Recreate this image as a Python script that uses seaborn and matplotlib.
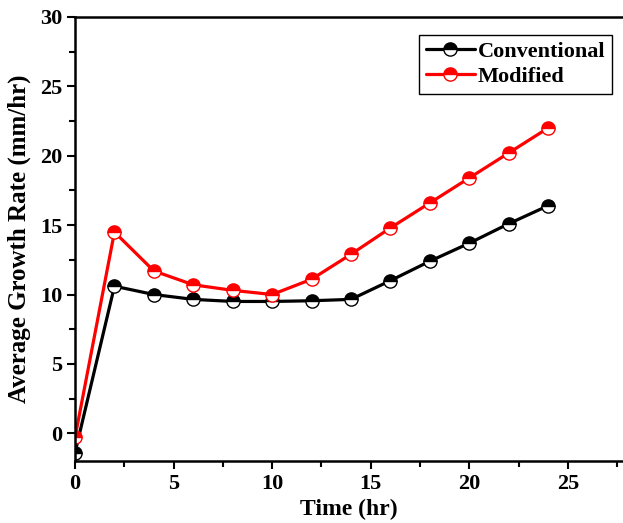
import matplotlib
matplotlib.use("Agg")
import matplotlib.pyplot as plt
import pandas as pd
import seaborn as sns
from matplotlib.ticker import MultipleLocator

# 読み取った値
time_hr = [0, 2, 4, 6, 8, 10, 12, 14, 16, 18, 20, 22, 24]
conventional = [-1.4, 10.6, 10.0, 9.65, 9.5, 9.5, 9.55, 9.65, 11.0, 12.4, 13.7, 15.1, 16.4]
modified = [-0.3, 14.5, 11.7, 10.7, 10.3, 10.0, 11.1, 12.9, 14.8, 16.6, 18.4, 20.2, 22.0]

df = pd.DataFrame({"time": time_hr, "Conventional": conventional, "Modified": modified})

sns.set_style("ticks")
plt.rcParams["font.family"] = ["Liberation Serif", "DejaVu Serif"]
plt.rcParams["font.weight"] = "bold"
for key in ["text.color", "axes.labelcolor", "xtick.color", "ytick.color"]:
    plt.rcParams[key] = "black"

fig = plt.figure(figsize=(6.23, 5.23), dpi=100)
ax = fig.add_axes([0.1204, 0.1185, 0.8796, 0.849])

style = dict(marker="o", markersize=9.5, fillstyle="top", markerfacecoloralt="white",
             linewidth=2.3, markeredgewidth=1.0)
sns.lineplot(data=df, x="time", y="Conventional", color="black", label="Conventional",
             markeredgecolor="black", ax=ax, **style)
sns.lineplot(data=df, x="time", y="Modified", color="red", label="Modified",
             markeredgecolor="red", ax=ax, **style)

ax.set_xlim(0, 27.8)
ax.set_ylim(-2, 30)
ax.xaxis.set_major_locator(MultipleLocator(5))
ax.xaxis.set_minor_locator(MultipleLocator(2.5))
ax.yaxis.set_major_locator(MultipleLocator(5))
ax.yaxis.set_minor_locator(MultipleLocator(2.5))
ax.tick_params(which="both", direction="out", width=1.5, labelsize=16, pad=3,
               colors="black")
ax.tick_params(which="major", length=6)
ax.tick_params(which="minor", length=4)
for lbl in ax.get_xticklabels() + ax.get_yticklabels():
    lbl.set_fontweight("bold")

for s in ["left", "bottom", "top"]:
    ax.spines[s].set_linewidth(1.8)
    ax.spines[s].set_color("black")
ax.spines["right"].set_visible(False)

ax.set_xlabel("Time (hr)", fontsize=17, fontweight="bold", labelpad=4, color="black")
ax.set_ylabel("Average Growth Rate (mm/hr)", fontsize=18, fontweight="bold", labelpad=7,
              color="black")

leg = ax.legend(loc="upper right", bbox_to_anchor=(0.98, 0.96), fancybox=False,
                framealpha=1, edgecolor="black", prop={"size": 16, "weight": "bold"},
                handlelength=2.2, handletextpad=0.15, borderpad=0.3, labelspacing=0.2,
                borderaxespad=0)
leg.get_frame().set_linewidth(1.0)
for t in leg.get_texts():
    t.set_color("black")

fig.savefig("out.png", dpi=100)
